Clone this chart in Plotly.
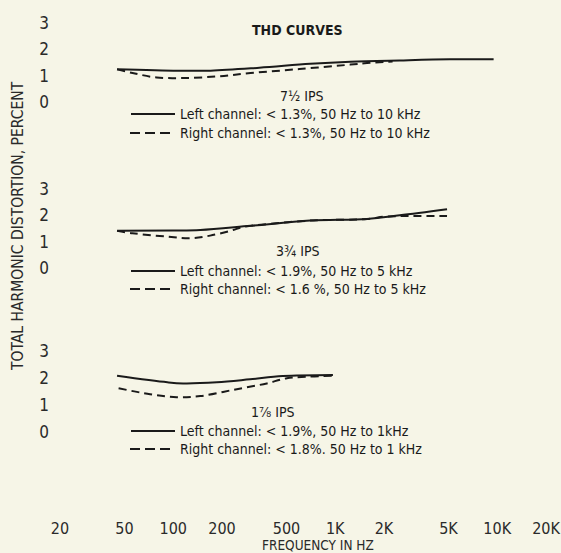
import math
import plotly.graph_objects as go

# ---------------- data ----------------
x_tickvals = [20, 50, 100, 200, 500, 1000, 2000, 5000, 10000, 20000]
x_ticktext = ["20", "50", "100", "200", "500", "1K", "2K", "5K", "10K", "20K"]
y_tickvals = [0, 1, 2, 3]

# 7-1/2 IPS
ips75_left_f = [45, 60, 100, 170, 340, 700, 1240, 2500, 5100, 9500]
ips75_left_v = [1.24, 1.22, 1.19, 1.19, 1.30, 1.45, 1.53, 1.58, 1.62, 1.62]
ips75_right_f = [45, 58, 79, 115, 186, 300, 600, 1240, 1570, 2260]
ips75_right_v = [1.24, 1.08, 0.93, 0.91, 0.97, 1.10, 1.25, 1.42, 1.48, 1.54]

# 3-3/4 IPS
ips375_left_f = [45, 100, 147, 300, 700, 1570, 2500, 4900]
ips375_left_v = [1.41, 1.42, 1.44, 1.60, 1.80, 1.86, 2.00, 2.23]
ips375_right_f = [45, 56, 92, 127, 169, 234, 258, 300, 700, 1570, 2000, 2500, 4900]
ips375_right_v = [1.41, 1.32, 1.19, 1.13, 1.23, 1.44, 1.53, 1.60, 1.80, 1.86, 1.95, 1.97, 1.97]

# 1-7/8 IPS
ips178_left_f = [45, 92, 115, 186, 298, 474, 968]
ips178_left_v = [2.08, 1.84, 1.80, 1.84, 1.95, 2.07, 2.11]
ips178_right_f = [46, 72, 105, 147, 234, 378, 503, 968]
ips178_right_v = [1.62, 1.40, 1.29, 1.33, 1.56, 1.80, 1.99, 2.08]

titles = ["7½ IPS", "3¾ IPS", "1⅞ IPS"]
left_texts = ["Left channel: < 1.3%, 50 Hz to 10 kHz",
              "Left channel: < 1.9%, 50 Hz to 5 kHz",
              "Left channel: < 1.9%, 50 Hz to 1kHz"]
right_texts = ["Right channel: < 1.3%, 50 Hz to 10 kHz",
               "Right channel: < 1.6 %, 50 Hz to 5 kHz",
               "Right channel: < 1.8%. 50 Hz to 1 kHz"]

# ---------------- layout helpers ----------------
W, H = 561, 553
def px(p):
    return p / W
def py(p):
    return 1 - p / H

FONT = "Liberation Sans Narrow, DejaVu Sans Condensed, Arial Narrow, Roboto Condensed, sans-serif"
INK = "#1a1a1a"
BG = "#f6f5e7"

fig = go.Figure()

series = [
    (ips75_left_f, ips75_left_v, ips75_right_f, ips75_right_v, "y"),
    (ips375_left_f, ips375_left_v, ips375_right_f, ips375_right_v, "y2"),
    (ips178_left_f, ips178_left_v, ips178_right_f, ips178_right_v, "y3"),
]
for lf, lv, rf, rv, ya in series:
    fig.add_trace(go.Scatter(x=rf, y=rv, mode="lines", yaxis=ya, xaxis="x",
                             line=dict(color=INK, width=2, dash="8px,5px", shape="spline"),
                             showlegend=False, hoverinfo="skip"))
    fig.add_trace(go.Scatter(x=lf, y=lv, mode="lines", yaxis=ya, xaxis="x",
                             line=dict(color=INK, width=2, shape="spline"),
                             showlegend=False, hoverinfo="skip"))

x0p, x1p = 50, 561
lg20 = math.log10(20)
ppd = 162.0
xr = [lg20 - (60 - x0p) / ppd, lg20 + (x1p - 60) / ppd]

yax_common = dict(range=[0, 3], tickvals=y_tickvals, ticktext=[str(v) for v in y_tickvals],
                  showgrid=False, zeroline=False, showline=False, ticks="",
                  tickfont=dict(family=FONT, size=17, color="#2a2a2a"), anchor="x",
                  fixedrange=True)

fig.update_layout(
    width=W, height=H,
    margin=dict(l=0, r=0, t=0, b=0, autoexpand=False),
    paper_bgcolor=BG, plot_bgcolor=BG,
    xaxis=dict(type="log", range=xr, domain=[px(x0p), px(x1p)],
               tickvals=x_tickvals, ticktext=x_ticktext,
               showgrid=False, zeroline=False, showline=False, ticks="",
               anchor="free", position=py(517), ticklabeloverflow="allow",
               tickfont=dict(family=FONT, size=16, color="#2a2a2a"), fixedrange=True),
    yaxis=dict(domain=[py(102), py(23)], **yax_common),
    yaxis2=dict(domain=[py(268), py(189)], **yax_common),
    yaxis3=dict(domain=[py(432), py(351)], **yax_common),
)

annotations = []
shapes = []

def note(x, y, text, size, xanchor="center", angle=0, color=INK):
    annotations.append(dict(x=px(x), y=py(y), xref="paper", yref="paper", text=text,
                            xanchor=xanchor, yanchor="middle", textangle=angle,
                            showarrow=False, font=dict(family=FONT, size=size, color=color)))

note(297, 30, "<b>THD CURVES</b>", 14)
note(18, 226, "TOTAL HARMONIC DISTORTION, PERCENT", 15.5, angle=-90, color="#2a2a2a")
note(318, 545, "FREQUENCY IN HZ", 13.5, color="#2a2a2a")

label_y = [(96, 114, 133, 302), (251, 271, 289, 298), (412, 431, 449, 273)]
for i, (ty, ly, ry, tx) in enumerate(label_y):
    note(tx, ty, titles[i], 14)
    note(178, ly, left_texts[i], 14, xanchor="left")
    note(178, ry, right_texts[i], 14, xanchor="left")
    shapes.append(dict(type="line", xref="paper", yref="paper", x0=px(131), x1=px(175),
                       y0=py(ly), y1=py(ly), line=dict(color=INK, width=1.8)))
    shapes.append(dict(type="line", xref="paper", yref="paper", x0=px(130), x1=px(175),
                       y0=py(ry), y1=py(ry), line=dict(color=INK, width=1.8, dash="10px,5px")))

fig.update_layout(annotations=annotations, shapes=shapes)
fig.write_html("out.html", config={"displayModeBar": False},
               post_script="document.body.style.margin='0';document.body.style.overflow='hidden';")
